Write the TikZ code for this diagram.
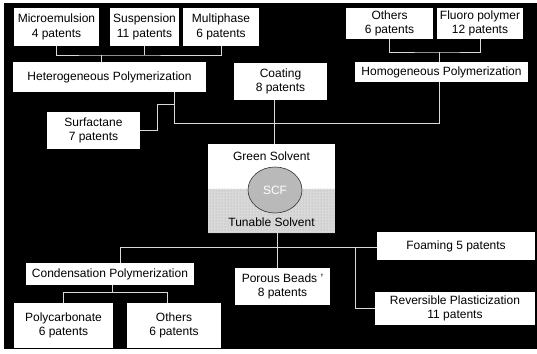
\documentclass[tikz,border=0pt]{standalone}
\usepackage{fontspec}
\setmainfont{Liberation Sans}
\usetikzlibrary{shapes.geometric,patterns}
\begin{document}
\begin{tikzpicture}[x=1pt,y=-1pt,
  box/.style={fill=white,draw=none,inner sep=0pt,align=center,font=\fontsize{12}{14.5}\selectfont},
  lbl/.style={inner sep=0pt,font=\fontsize{12}{14.5}\selectfont},
  conn/.style={draw=white!85!black,line width=0.7pt}]
\useasboundingbox (0,0) rectangle (537,353);
\fill[white] (0,0) rectangle (537,353);
\fill[black] (4,3) rectangle (537,349);
% top-left group
\node[box,minimum width=85,minimum height=38] (micro) at (56.5,27) {Microemulsion\\4 patents};
\node[box,minimum width=69,minimum height=38] (susp) at (144.5,27) {Suspension\\11 patents};
\node[box,minimum width=76,minimum height=38] (multi) at (221,27) {Multiphase\\6 patents};
\node[box,minimum width=193,minimum height=30] (hetero) at (109.5,77) {Heterogeneous Polymerization};
\node[box,minimum width=93,minimum height=37] (surf) at (93.5,130.5) {Surfactane\\7 patents};
\node[box,minimum width=93,minimum height=37] (coating) at (280.5,81.5) {Coating\\8 patents};
% top-right group
\node[box,minimum width=87,minimum height=31] (others1) at (389.5,23.5) {Others\\6 patents};
\node[box,minimum width=86,minimum height=31] (fluoro) at (480,23.5) {Fluoro polymer\\12 patents};
\node[box,minimum width=173,minimum height=20] (homo) at (441.5,72) {Homogeneous Polymerization};
% center
\node[box,minimum width=127,minimum height=89] (center) at (271.5,188.5) {};
\fill[gray!30] (center.west) rectangle (center.south east);
\fill[pattern=dots,pattern color=gray!70] (center.west) rectangle (center.south east);
\node[ellipse,fill=gray!55,draw=gray!40!black,line width=0.6pt,minimum width=54,minimum height=46,inner sep=0pt,font=\fontsize{12}{14.5}\selectfont,text=white] (scf) at (275,190) {SCF};
\node[lbl] (green) at (271.5,156) {Green Solvent};
\node[lbl] (tunable) at (271.5,222) {Tunable Solvent};
% bottom
\node[box,minimum width=95,minimum height=37] (porous) at (282.5,286.5) {Porous Beads '\\8 patents};
\node[box,minimum width=168,minimum height=22] (cond) at (110,274) {Condensation Polymerization};
\node[box,minimum width=99,minimum height=45] (poly) at (63.5,325.5) {Polycarbonate\\6 patents};
\node[box,minimum width=94,minimum height=45] (others2) at (174,325.5) {Others\\6 patents};
\node[box,minimum width=158,minimum height=28] (foam) at (456,246) {Foaming 5 patents};
\node[box,minimum width=160,minimum height=33] (rev) at (455,308.5) {Reversible Plasticization\\11 patents};
% connector junctions
\coordinate (j1) at (101,55);
\coordinate (hb) at (174,123);
\coordinate (mb) at (439,123);
\coordinate (s1) at (157,104);
\coordinate (cx) at (274,0);
\coordinate (t1) at (439,52);
\coordinate (b0) at (277,247);
\coordinate (bl) at (120,247);
\coordinate (br) at (355,247);
\coordinate (c1) at (112,292);
\coordinate (c2) at (167,292);
% connectors
\draw[conn] (micro.south) |- (j1) -| (multi.south);
\draw[conn] (susp.south) -- (susp.south |- j1);
\draw[conn] (j1) -- (j1 |- hetero.north);
\draw[conn] (hetero.south -| hb) -- (hb) -- (mb) -- (mb |- homo.south);
\draw[conn] (surf.east) -| (s1) -- (s1 -| hb);
\draw[conn] (coating.south -| cx) -- (center.north -| cx);
\draw[conn] (others1.south) |- (t1) -| (fluoro.south);
\draw[conn] (t1) -- (t1 |- homo.north);
\draw[conn] (center.south -| b0) -- (porous.north -| b0);
\draw[conn] (bl |- cond.north) -- (bl) -- (bl -| foam.west);
\draw[conn] (br) |- (rev.west);
\draw[conn] (cond.south -| c1) -- (c1);
\draw[conn] (poly.north) |- (c2) -- (c2 |- others2.north);
\end{tikzpicture}
\end{document}
